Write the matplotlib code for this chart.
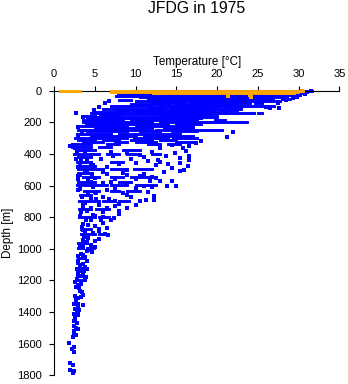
import matplotlib
matplotlib.use("Agg")
import matplotlib.pyplot as plt

plt.rcParams['font.family'] = ['Liberation Sans', 'DejaVu Sans']

title = "JFDG in 1975"
xlabel = "Temperature [°C]"
ylabel = "Depth [m]"
xticks = [0, 5, 10, 15, 20, 25, 30, 35]
yticks = [0, 200, 400, 600, 800, 1000, 1200, 1400, 1600, 1800]

# Dense profile segments at a given depth: (depth, t_min, t_max)
run_depth = [0, 6, 12, 18, 24, 30, 36, 42,
             50, 50, 57, 57, 66, 66, 75, 75, 75, 84, 84,
             95, 95, 95, 104, 104, 115, 115, 124, 124, 132, 132,
             142, 142, 142, 150, 158, 158, 158, 166, 166, 175, 175,
             185, 185, 185, 198, 198, 210, 210, 222, 222, 235, 235,
             248, 248, 258, 258, 258, 272, 272, 285, 285,
             298, 298, 298, 312, 312, 312, 312, 325, 325, 325, 325,
             340, 340, 340, 340, 355, 355, 372, 372,
             398, 398, 398, 398, 420, 448, 448, 475,
             497, 497, 497, 520, 545, 545, 545, 575, 575,
             598, 598, 598, 633, 633, 633, 660, 698, 698, 698,
             750, 750, 800, 800, 875, 905, 905, 965, 998, 998,
             1060, 1140, 1200]
run_tmin = [9.5, 7.5, 7.8, 8.0, 8.2, 9.0, 7.6, 10.5,
            11.5, 28.0, 8.0, 12.5, 10.0, 27.1, 12.0, 16.8, 24.6, 9.5, 15.0,
            7.0, 13.0, 25.3, 11.5, 21.0, 6.0, 14.5, 8.0, 20.5, 5.0, 10.0,
            4.5, 19.0, 25.0, 6.0, 3.8, 6.0, 13.0, 5.0, 18.0, 4.0, 12.0,
            3.6, 9.5, 19.8, 3.5, 13.0, 4.0, 15.0, 3.3, 10.0, 5.0, 13.5,
            3.0, 12.5, 4.0, 10.5, 14.5, 3.0, 8.0, 4.5, 11.0,
            2.6, 9.8, 14.6, 3.0, 6.0, 9.5, 13.0, 3.5, 7.5, 10.0, 15.0,
            2.4, 6.5, 11.5, 14.0, 2.2, 5.5, 3.0, 8.5,
            2.5, 6.5, 9.0, 12.0, 3.0, 2.8, 7.0, 3.0,
            2.9, 7.0, 9.8, 3.0, 3.5, 7.0, 9.5, 3.0, 8.0,
            2.8, 7.0, 10.0, 3.7, 7.0, 9.0, 3.2, 3.1, 6.0, 8.0,
            3.1, 5.2, 3.1, 5.5, 3.3, 3.3, 5.5, 3.0, 2.9, 4.0,
            2.9, 2.8, 2.7]
run_tmax = [31.6, 31.0, 30.4, 29.8, 29.4, 29.0, 28.6, 28.2,
            26.9, 29.0, 9.5, 26.8, 26.7, 27.7, 16.0, 24.0, 25.5, 14.0, 22.5,
            12.0, 24.9, 27.0, 20.0, 23.0, 13.5, 23.0, 19.5, 22.5, 9.0, 21.0,
            18.0, 24.5, 25.5, 20.0, 5.0, 8.0, 19.0, 17.5, 20.0, 11.5, 18.0,
            8.5, 17.5, 21.0, 12.0, 23.7, 14.0, 18.0, 9.0, 17.0, 12.0, 17.0,
            11.5, 20.6, 9.0, 13.0, 17.5, 7.0, 15.5, 10.0, 17.0,
            9.0, 14.0, 17.6, 5.0, 8.0, 12.0, 15.0, 6.0, 9.0, 12.5, 17.3,
            4.5, 8.0, 13.0, 15.5, 4.5, 7.0, 5.0, 10.5,
            5.5, 8.0, 10.0, 13.0, 4.5, 4.2, 8.5, 5.0,
            6.0, 9.0, 12.0, 4.5, 5.5, 8.5, 11.7, 5.0, 9.5,
            6.5, 9.0, 12.5, 5.5, 8.0, 10.5, 4.5, 5.5, 7.5, 9.2,
            4.5, 6.8, 5.0, 6.8, 4.5, 5.0, 6.4, 4.0, 3.6, 4.9,
            3.5, 3.6, 3.4]

# Individual observations: temperature [°C] and depth [m]
pt_temp = [31.5, 30.8, 30.2, 29.8, 29.3, 28.5, 27.5, 26.0, 27.6, 26.5,
           6.8, 6.3, 5.5, 4.9, 2.7, 3.5, 4.2, 3.0, 3.4, 2.9, 5.8, 4.0, 22.0, 21.2,
           18.0, 17.4, 16.5, 15.8, 16.2, 14.5, 13.0, 12.0, 14.8, 16.6,
           15.5, 13.8, 11.0, 9.5, 7.2, 5.8, 10.5, 12.8, 16.6, 15.5,
           14.0, 16.4, 14.5, 16.0, 12.5, 10.0, 8.0, 6.5, 4.5, 3.3,
           15.4, 13.5, 11.0, 9.0, 6.5, 12.5, 14.5, 13.0, 11.8, 10.0,
           7.5, 5.0, 13.9, 15.0, 9.0, 6.0, 4.5, 3.2, 4.0, 2.9,
           12.3, 10.0, 7.5, 5.0, 8.5, 11.5, 12.3, 6.0, 4.5, 9.5,
           10.5, 11.3, 3.8, 8.0, 6.8, 5.2,
           3.5, 5.5, 7.5, 9.0, 4.0, 6.0, 8.0, 3.2, 5.0, 7.4,
           4.5, 3.5, 6.0, 3.4, 5.0, 6.5, 3.8, 5.5, 6.6, 4.2,
           3.5, 5.0, 4.5, 3.2, 4.0, 3.3, 4.6,
           3.5, 2.9, 4.0, 3.2, 3.8, 2.8, 4.1, 3.5, 3.0, 3.9,
           2.6, 3.3, 2.7, 3.1, 3.4, 3.6, 2.6, 3.0, 2.4, 3.0,
           3.5, 2.6, 3.1, 2.5, 2.9, 2.6, 2.8, 2.4, 2.9, 2.5,
           2.7, 2.3, 1.9, 2.5, 2.2, 2.4, 2.0, 2.3, 2.0, 2.5, 2.3,
           2.3, 2.0, 2.6, 3.8, 2.8, 4.5, 3.5, 2.7, 4.0, 3.2,
           4.8, 2.9, 3.8, 4.6, 3.2, 4.2, 2.9, 3.6, 4.8, 3.0,
           4.2, 3.4, 5.2, 3.6, 4.5, 3.3, 4.8, 3.9, 5.8, 4.2,
           3.6, 4.8, 3.7, 5.5, 4.1, 3.6, 4.4,
           7.0, 9.0, 11.5, 13.0, 9.0, 6.0, 8.5, 10.5, 12.0, 7.0,
           11.0, 12.0, 6.5, 9.0, 7.5, 10.0, 6.5, 8.0, 6.0, 7.0,
           5.5, 6.2, 5.0,
           3.0, 3.8, 2.9, 3.6, 3.3, 3.7, 2.9, 3.4, 3.8, 2.8,
           3.0, 3.2, 3.3, 2.7, 2.9, 2.8, 3.0, 2.6, 2.5, 2.7, 2.4]
pt_depth = [2, 20, 26, 40, 45, 58, 80, 100, 108, 112,
            62, 80, 105, 122, 140, 166, 190, 230, 265, 280, 160, 215, 262, 290,
            318, 330, 350, 362, 380, 345, 365, 385, 392, 410,
            425, 412, 420, 430, 410, 435, 405, 440, 438, 457,
            462, 476, 487, 500, 470, 455, 465, 480, 460, 430,
            505, 515, 525, 535, 530, 555, 570, 570, 570, 560,
            560, 555, 600, 605, 590, 585, 580, 620, 505, 540,
            665, 615, 620, 640, 650, 640, 690, 670, 680, 675,
            700, 690, 710, 715, 685, 645,
            720, 725, 730, 740, 760, 770, 780, 790, 790, 805,
            820, 840, 835, 860, 855, 870, 890, 890, 915, 930,
            945, 950, 975, 980, 1015, 1030, 1020,
            1040, 1075, 1080, 1100, 1115, 1125, 1130, 1160, 1170, 1180,
            1210, 1220, 1240, 1250, 1275, 1290, 1300, 1310, 1350, 1350,
            1355, 1380, 1390, 1410, 1420, 1450, 1470, 1490, 1510, 1530,
            1545, 1560, 1595, 1620, 1635, 1655, 1720, 1735, 1765, 1775, 1785,
            345, 350, 365, 380, 390, 405, 415, 430, 440, 455,
            470, 485, 510, 525, 535, 560, 560, 590, 610, 625,
            650, 670, 685, 740, 745, 770, 785, 815, 820, 850,
            880, 900, 925, 940, 960, 990, 1005,
            385, 395, 445, 450, 500, 515, 520, 540, 545, 575,
            600, 610, 630, 660, 700, 720, 745, 760, 800, 815,
            875, 905, 990,
            1045, 1050, 1090, 1095, 1130, 1140, 1145, 1175, 1195, 1190,
            1230, 1265, 1305, 1325, 1360, 1395, 1400, 1430, 1455, 1500, 1520]

# Surface observations (orange)
surf_depth = [0, 2, 8, 14]
surf_tmin = [0.7, 7.0, 7.0, 12.5]
surf_tmax = [3.2, 30.6, 29.9, 29.5]
surf_pt_temp = [21.3, 24.2, 24.0, 30.4, 12.3]
surf_pt_depth = [33, 40, 26, 3, 12]

BLUE = "#0000FF"
ORANGE = "#FFA500"

fig = plt.figure(figsize=(3.48, 3.84), dpi=100)
ax = fig.add_axes([0.1552, 0.0227, 0.8198, 0.7411])

lw = 2.1   # thickness of dense segments, points
ms = 2.7   # marker size, points
ax.hlines(run_depth, run_tmin, run_tmax, colors=BLUE, linewidth=lw,
          capstyle='projecting', zorder=2, clip_on=False)
ax.plot(pt_temp, pt_depth, 's', color=BLUE, markersize=ms, markeredgewidth=0,
        zorder=2, clip_on=False)

ax.hlines(surf_depth, surf_tmin, surf_tmax, colors=ORANGE, linewidth=lw,
          capstyle='projecting', zorder=4, clip_on=False)
ax.plot(surf_pt_temp, surf_pt_depth, 's', color=ORANGE, markersize=ms,
        markeredgewidth=0, zorder=4, clip_on=False)

ax.set_xlim(0, 35)
ax.set_ylim(1800, 0)
ax.set_xticks(xticks)
ax.set_yticks(yticks)

ax.spines['bottom'].set_visible(False)
ax.spines['right'].set_visible(False)
for s in ('top', 'left'):
    ax.spines[s].set_linewidth(0.8)
    ax.spines[s].set_zorder(3)
ax.spines['left'].set_bounds(0, 1800)
ax.xaxis.tick_top()
ax.tick_params(axis='x', direction='out', length=3.6, width=0.8, pad=4.6,
               labelsize=8)
ax.tick_params(axis='y', direction='out', length=3.8, width=0.8, pad=4.8,
               labelsize=8)
ax.patch.set_visible(False)

fig.text(197 / 348, 1 - 13.3 / 384, title, ha='center', va='baseline',
         fontsize=11.3)
fig.text(197 / 348, 1 - 64.5 / 384, xlabel, ha='center', va='baseline',
         fontsize=8.4)
fig.text(7.5 / 348, 1 - 233 / 384, ylabel, ha='center', va='center',
         rotation=90, fontsize=8.4)

fig.savefig("out.png", dpi=100)
